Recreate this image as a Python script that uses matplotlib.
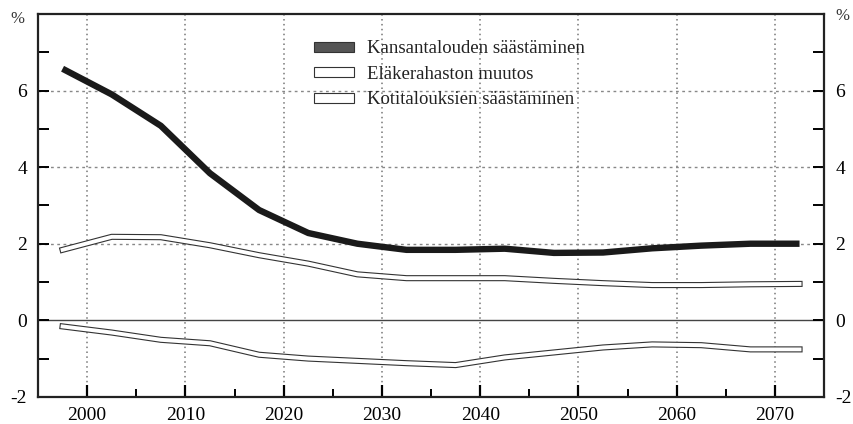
import numpy as np
import matplotlib.pyplot as plt
from matplotlib.patches import Patch

plt.rcParams['font.family'] = ['Liberation Serif', 'DejaVu Serif']
plt.rcParams['axes.unicode_minus'] = False

years = [1997.5, 2002.5, 2007.5, 2012.5, 2017.5, 2022.5, 2027.5, 2032.5,
         2037.5, 2042.5, 2047.5, 2052.5, 2057.5, 2062.5, 2067.5, 2072.5]
kansantalous = [6.57, 5.9, 5.08, 3.84, 2.88, 2.28, 2.0, 1.84,
                1.84, 1.87, 1.76, 1.77, 1.88, 1.95, 2.0, 2.0]
elakerahasto = [1.84, 2.18, 2.17, 1.96, 1.70, 1.48, 1.20, 1.10,
                1.10, 1.10, 1.03, 0.97, 0.92, 0.92, 0.94, 0.95]
kotitaloudet = [-0.16, -0.32, -0.51, -0.60, -0.90, -1.0, -1.06, -1.12,
                -1.17, -0.97, -0.84, -0.71, -0.63, -0.65, -0.76, -0.76]
labels = ['Kansantalouden säästäminen', 'Eläkerahaston muutos',
          'Kotitalouksien säästäminen']

fig = plt.figure(figsize=(8.54, 4.24), dpi=100)
ax = fig.add_axes([0.0445, 0.064, 0.9205, 0.903])

ax.set_xlim(1995, 2075)
ax.set_ylim(-2, 8)

# grid
for x in range(2000, 2071, 10):
    ax.axvline(x, color='#777777', lw=1.1, linestyle=(0, (1, 2.2)), zorder=1)
for y in [2, 4, 6]:
    ax.axhline(y, color='#888888', lw=1.0, linestyle=(0, (2, 2.5)), zorder=1)
ax.axhline(0, color='#444444', lw=1.0, zorder=1)

# series
ax.plot(years, kansantalous, color='#1a1a1a', lw=4.6, solid_capstyle='butt', zorder=3)
for vals in [elakerahasto, kotitaloudet]:
    ax.plot(years, vals, color='#333333', lw=4.4, solid_capstyle='projecting',
            solid_joinstyle='round', zorder=3)
    ax.plot(years, vals, color='white', lw=2.8, solid_capstyle='projecting',
            solid_joinstyle='round', zorder=4)

# ticks
ax.set_xticks(range(2000, 2071, 10))
ax.set_xticks(range(2005, 2071, 10), minor=True)
ax.set_yticks([-2, 0, 2, 4, 6])
ax.set_yticks([-1, 1, 3, 5, 7], minor=True)
ax.tick_params(axis='x', which='major', direction='in', length=9, width=1.6,
               labelsize=14, pad=7)
ax.tick_params(axis='x', which='minor', direction='in', length=6, width=1.4)
ax.tick_params(axis='y', which='both', direction='in', length=8, width=1.4,
               left=True, right=True, labelleft=True, labelright=True,
               labelsize=14, pad=6)
ax.tick_params(axis='y', which='major', pad=8)
for s in ax.spines.values():
    s.set_linewidth(1.6)
    s.set_color('#222222')

fig.text(0.012, 0.945, '%', fontsize=12, color='#333333')
fig.text(0.978, 0.952, '%', fontsize=12, color='#333333')

handles = [Patch(facecolor='#555555', edgecolor='#333333', lw=0.8),
           Patch(facecolor='white', edgecolor='#333333', lw=0.8),
           Patch(facecolor='white', edgecolor='#333333', lw=0.8)]
leg = ax.legend(handles, labels, loc='upper left', bbox_to_anchor=(0.33, 0.975),
                frameon=False, fontsize=13.5, handlelength=2.1, handleheight=0.45,
                handletextpad=0.7, labelspacing=0.45)
for t in leg.get_texts():
    t.set_color('#222222')

plt.savefig('out.png', dpi=100, facecolor='white')
